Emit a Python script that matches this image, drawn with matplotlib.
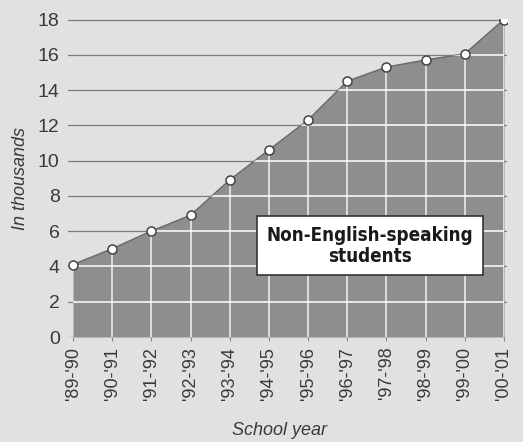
import matplotlib.pyplot as plt
import numpy as np
from matplotlib import font_manager

years = ["'89-'90", "'90-'91", "'91-'92", "'92-'93", "'93-'94", "'94-'95",
         "'95-'96", "'96-'97", "'97-'98", "'98-'99", "'99-'00", "'00-'01"]
students = [4.1, 5.0, 6.0, 6.9, 8.9, 10.6, 12.3, 14.5, 15.3, 15.7, 16.05, 18.0]
yticks = [0, 2, 4, 6, 8, 10, 12, 14, 16, 18]

bg = "#e1e1e1"
fill = "#8e8e8e"
plt.rcParams['font.family'] = ['Liberation Sans', 'DejaVu Sans']

# look for a narrow/condensed face that has a bold weight
bold_narrow = [f for f in font_manager.fontManager.ttflist
               if ("Narrow" in f.name or "Condensed" in f.name or f.stretch in ("condensed", "semi-condensed"))
               and (f.weight in ("bold", 700) or (isinstance(f.weight, int) and f.weight >= 600))]

fig = plt.figure(figsize=(5.23, 4.42), dpi=100, facecolor=bg)
ax = fig.add_axes([68/523, 1-337/442, 439/523, 318/442])
ax.set_facecolor(bg)
x = np.arange(len(years))

# dark grid lines behind the area
for t in yticks:
    ax.axhline(t, color="#7a7a7a", lw=0.9, zorder=1)

poly = ax.fill_between(x, students, 0, color=fill, lw=0, zorder=2)
ax.plot(x, students, color="#6a6a6a", lw=1.2, zorder=3)

# white grid visible only inside the shaded area
clip = poly.get_paths()[0]
for t in yticks[1:]:
    ln = ax.axhline(t, color="white", lw=1.3, alpha=0.85, zorder=3)
    ln.set_clip_path(clip, ax.transData)
for xi in x[1:]:
    ln = ax.axvline(xi, color="white", lw=1.3, alpha=0.75, zorder=3)
    ln.set_clip_path(clip, ax.transData)

ax.plot(x, students, 'o', ms=6.5, mfc="white", mec="#444444", mew=1.1, zorder=4)

ax.set_xlim(-0.128, 11.077)
ax.set_ylim(0, 18.03)
ax.set_yticks(yticks)
ax.set_yticklabels([str(t) for t in yticks], fontsize=14, color="#3a3a3a")
ax.set_xticks(x)
ax.set_xticklabels(years, rotation=90, fontsize=13, color="#3a3a3a")
ax.tick_params(axis='y', length=0, pad=6)
ax.tick_params(axis='x', length=3, color="#888888", pad=4)
for s in ax.spines.values():
    s.set_visible(False)

ax.set_ylabel("In thousands", fontsize=13, style="italic", color="#3a3a3a", labelpad=6)
fig.text(0.535, 0.027, "School year", fontsize=13, style="italic", color="#3a3a3a",
         ha="center", va="center")

if bold_narrow:
    fp = font_manager.FontProperties(fname=bold_narrow[0].fname, size=13.5)
else:
    fp = font_manager.FontProperties(family="DejaVu Sans", weight="bold", size=12)
ax.text(7.58, 5.16, "Non-English-speaking\nstudents", ha="center", va="center",
        fontproperties=fp, color="#1a1a1a", linespacing=1.15, zorder=6,
        bbox=dict(boxstyle="square,pad=0.5", fc="white", ec="#333333", lw=1.2))

fig.savefig("out.png", dpi=100, facecolor=bg)
